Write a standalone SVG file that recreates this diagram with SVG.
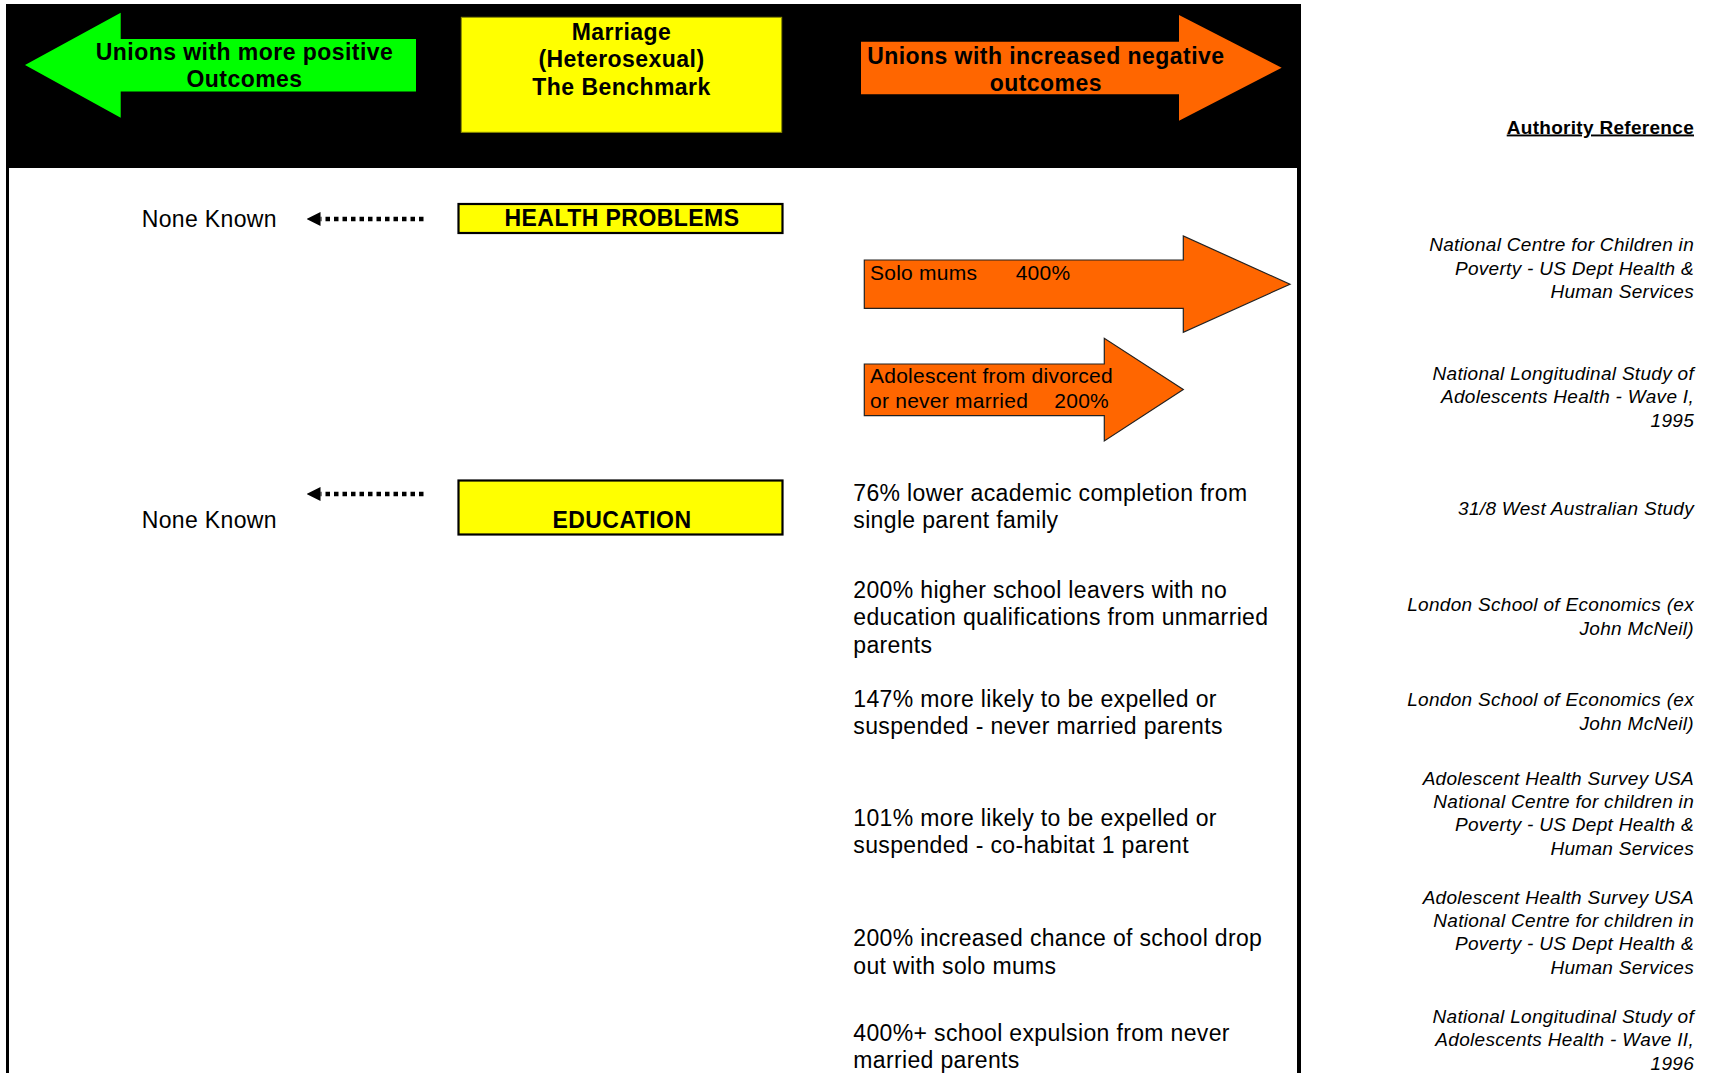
<svg xmlns="http://www.w3.org/2000/svg" width="1711" height="1073" viewBox="0 0 1711 1073">
<style>
text{font-family:"Liberation Sans",Arial,sans-serif;fill:#000}
.hb{font-size:23px;font-weight:bold;letter-spacing:0.45px;text-anchor:middle}
.body{font-size:23px;letter-spacing:0.35px}
.arr{font-size:21px;letter-spacing:0.25px}
.ref{font-size:19px;font-style:italic;letter-spacing:0.3px;text-anchor:end}
.refh{font-size:19px;font-weight:bold;letter-spacing:0.3px;text-anchor:end;text-decoration:underline}
.orange{fill:#FF6600}
.dots{fill:none;stroke:#000;stroke-width:4.5;stroke-dasharray:4.5 4}
</style>
<defs>
<marker id="ah" viewBox="0 0 14 14" refX="0" refY="7" markerWidth="14" markerHeight="14" markerUnits="userSpaceOnUse" orient="auto">
<path d="M0,0 L14,7 L0,14 Z" fill="#000"/>
</marker>
</defs>
<rect width="1711" height="1073" fill="#fff"/>
<g id="frame">
<rect x="6" y="4" width="1295" height="164" fill="#000"/>
<line x1="7.5" y1="166" x2="7.5" y2="1073" stroke="#000" stroke-width="3"/>
<line x1="1299" y1="166" x2="1299" y2="1073" stroke="#000" stroke-width="4"/>
</g>
<g id="positive">
<polygon points="25,65 120.7,12.7 120.7,39 416,39 416,91.5 120.7,91.5 120.7,117.7" fill="#00FF00"/>
<text class="hb" x="244.5" y="60">Unions with more positive</text>
<text class="hb" x="244.5" y="87">Outcomes</text>
</g>
<g id="benchmark">
<rect x="461.3" y="17.3" width="320.4" height="115" fill="#FFFF00" stroke="#8a8a00" stroke-width="1"/>
<text class="hb" x="621.5" y="39.5">Marriage</text>
<text class="hb" x="621.5" y="67">(Heterosexual)</text>
<text class="hb" x="621.5" y="94.5">The Benchmark</text>
</g>
<g id="negative">
<polygon class="orange" points="861,41.7 1179,41.7 1179,15 1281.7,67.8 1179,120.7 1179,94.3 861,94.3"/>
<text class="hb" x="1045.8" y="63.5">Unions with increased negative</text>
<text class="hb" x="1045.8" y="90.7">outcomes</text>
</g>
<g id="authority-heading">
<text class="refh" x="1694" y="133.5">Authority Reference</text>
</g>
<g id="health-none">
<text class="body" x="141.7" y="226.7">None Known</text>
</g>
<g id="health">
<rect x="458.5" y="204" width="324" height="29" fill="#FFFF00" stroke="#000" stroke-width="2.2"/>
<text class="hb" x="622" y="226">HEALTH PROBLEMS</text>
</g>
<g id="solo-mums">
<polygon class="orange" points="864.3,260 1183.3,260 1183.3,236 1290,284.2 1183.3,332.3 1183.3,308.3 864.3,308.3" stroke="#222" stroke-width="1.2"/>
<text class="arr" x="870" y="280">Solo mums<tspan x="1015.7">400%</tspan></text>
</g>
<g id="adolescent">
<polygon class="orange" points="864.3,364 1104.3,364 1104.3,338.3 1183.3,389.6 1104.3,441 1104.3,415.7 864.3,415.7" stroke="#222" stroke-width="1.2"/>
<text class="arr" x="870" y="383.3">Adolescent from divorced</text>
<text class="arr" x="870" y="408.3">or never married<tspan x="1054.3">200%</tspan></text>
</g>
<g id="ref-health-1">
<text class="ref" x="1694" y="251">National Centre for Children in</text>
<text class="ref" x="1694" y="274.5">Poverty - US Dept Health &amp;</text>
<text class="ref" x="1694" y="298">Human Services</text>
</g>
<g id="ref-health-2">
<text class="ref" x="1694" y="379.5">National Longitudinal Study of</text>
<text class="ref" x="1694" y="403">Adolescents Health - Wave I,</text>
<text class="ref" x="1694" y="426.5">1995</text>
</g>
<g id="education-none">
<text class="body" x="141.7" y="528">None Known</text>
</g>
<g id="education">
<rect x="458.5" y="480.5" width="324" height="54" fill="#FFFF00" stroke="#000" stroke-width="2.2"/>
<text class="hb" x="622" y="528">EDUCATION</text>
</g>
<g id="edu-1">
<text class="body" x="853.3" y="501">76% lower academic completion from</text>
<text class="body" x="853.3" y="528">single parent family</text>
</g>
<g id="edu-2">
<text class="body" x="853.3" y="598">200% higher school leavers with no</text>
<text class="body" x="853.3" y="625.3">education qualifications from unmarried</text>
<text class="body" x="853.3" y="652.6">parents</text>
</g>
<g id="edu-3">
<text class="body" x="853.3" y="707.2">147% more likely to be expelled or</text>
<text class="body" x="853.3" y="734.4">suspended - never married parents</text>
</g>
<g id="edu-4">
<text class="body" x="853.3" y="826">101% more likely to be expelled or</text>
<text class="body" x="853.3" y="853.4">suspended - co-habitat 1 parent</text>
</g>
<g id="edu-5">
<text class="body" x="853.3" y="946">200% increased chance of school drop</text>
<text class="body" x="853.3" y="973.7">out with solo mums</text>
</g>
<g id="edu-6">
<text class="body" x="853.3" y="1041">400%+ school expulsion from never</text>
<text class="body" x="853.3" y="1067.7">married parents</text>
</g>
<g id="ref-edu-1">
<text class="ref" x="1694" y="515">31/8 West Australian Study</text>
</g>
<g id="ref-edu-2">
<text class="ref" x="1694" y="611">London School of Economics (ex</text>
<text class="ref" x="1694" y="635">John McNeil)</text>
</g>
<g id="ref-edu-3">
<text class="ref" x="1694" y="706">London School of Economics (ex</text>
<text class="ref" x="1694" y="730">John McNeil)</text>
</g>
<g id="ref-edu-4">
<text class="ref" x="1694" y="784.5">Adolescent Health Survey USA</text>
<text class="ref" x="1694" y="807.8">National Centre for children in</text>
<text class="ref" x="1694" y="831.2">Poverty - US Dept Health &amp;</text>
<text class="ref" x="1694" y="854.5">Human Services</text>
</g>
<g id="ref-edu-5">
<text class="ref" x="1694" y="903.5">Adolescent Health Survey USA</text>
<text class="ref" x="1694" y="926.8">National Centre for children in</text>
<text class="ref" x="1694" y="950.2">Poverty - US Dept Health &amp;</text>
<text class="ref" x="1694" y="973.5">Human Services</text>
</g>
<g id="ref-edu-6">
<text class="ref" x="1694" y="1022.5">National Longitudinal Study of</text>
<text class="ref" x="1694" y="1046">Adolescents Health - Wave II,</text>
<text class="ref" x="1694" y="1069.5">1996</text>
</g>
<g id="connectors">
<line class="dots" x1="423.5" y1="219" x2="320.5" y2="219" marker-end="url(#ah)"/>
<line class="dots" x1="423.5" y1="494" x2="320.5" y2="494" marker-end="url(#ah)"/>
</g>
</svg>
